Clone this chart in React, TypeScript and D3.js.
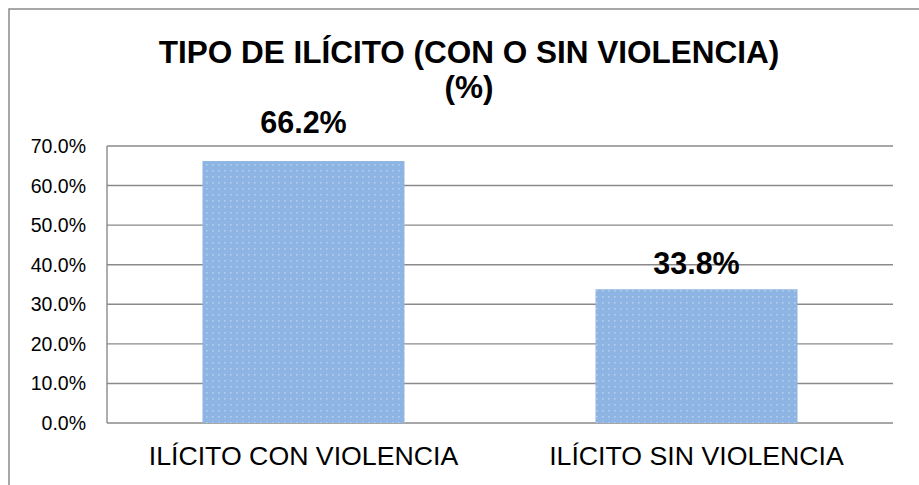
import React from "react";
import * as d3 from "d3";

const categories = ["ILÍCITO CON VIOLENCIA", "ILÍCITO SIN VIOLENCIA"];
const values = [66.2, 33.8];
const valueLabels = ["66.2%", "33.8%"];
const yTicks = [0, 10, 20, 30, 40, 50, 60, 70];
const titleLines = ["TIPO DE ILÍCITO (CON O SIN VIOLENCIA)", "(%)"];

const W = 919;
const H = 485;
const M = { left: 107, right: 26, top: 146, bottom: 62 };
const labelGap = [28, 15];
const FONT = "'Liberation Sans', Arial, Helvetica, sans-serif";

export default function App() {
  const x = d3
    .scaleBand<string>()
    .domain(categories)
    .range([M.left, W - M.right])
    .paddingInner(0.486)
    .paddingOuter(0.243);
  const y = d3.scaleLinear().domain([0, 70]).range([H - M.bottom, M.top]);
  const gridColor = "#8a8a8a";

  return (
    <svg
      width={W}
      height={H}
      style={{ position: "fixed", left: 0, top: 0, background: "#fff" }}
      fontFamily={FONT}
    >
      <defs>
        <pattern id="dots" width={6} height={6} patternUnits="userSpaceOnUse">
          <rect width={6} height={6} fill="#8db4e2" />
          <rect x={2} y={2} width={1.6} height={1.6} fill="#b3cdee" />
        </pattern>
      </defs>
      <rect x={9} y={9} width={940} height={500} fill="#fff" stroke="#8a8a8a" strokeWidth={1.5} />
      {yTicks.map((t) => (
        <line key={t} x1={M.left} x2={W - M.right} y1={y(t)} y2={y(t)} stroke={gridColor} strokeWidth={1.4} />
      ))}
      <line x1={M.left} x2={M.left} y1={y(70)} y2={y(0)} stroke={gridColor} strokeWidth={1.4} />
      {yTicks.map((t) => (
        <text key={"l" + t} x={86} y={y(t)} dy="0.36em" textAnchor="end" fontSize={19.5} fill="#000">
          {t.toFixed(1) + "%"}
        </text>
      ))}
      {categories.map((c, i) => (
        <rect
          key={c}
          x={x(c)}
          y={y(values[i])}
          width={x.bandwidth()}
          height={y(0) - y(values[i])}
          fill="url(#dots)"
        />
      ))}
      {categories.map((c, i) => (
        <text
          key={"v" + c}
          x={(x(c) as number) + x.bandwidth() / 2}
          y={y(values[i]) - labelGap[i]}
          textAnchor="middle"
          fontSize={30.5}
          fontWeight="bold"
          fill="#000"
        >
          {valueLabels[i]}
        </text>
      ))}
      {categories.map((c) => (
        <text
          key={"c" + c}
          x={(x(c) as number) + x.bandwidth() / 2}
          y={465}
          textAnchor="middle"
          fontSize={26.7}
          fill="#000"
        >
          {c}
        </text>
      ))}
      {titleLines.map((t, i) => (
        <text key={"t" + i} x={469} y={63 + i * 35} textAnchor="middle" fontSize={31.5} fontWeight="bold" fill="#000">
          {t}
        </text>
      ))}
    </svg>
  );
}
